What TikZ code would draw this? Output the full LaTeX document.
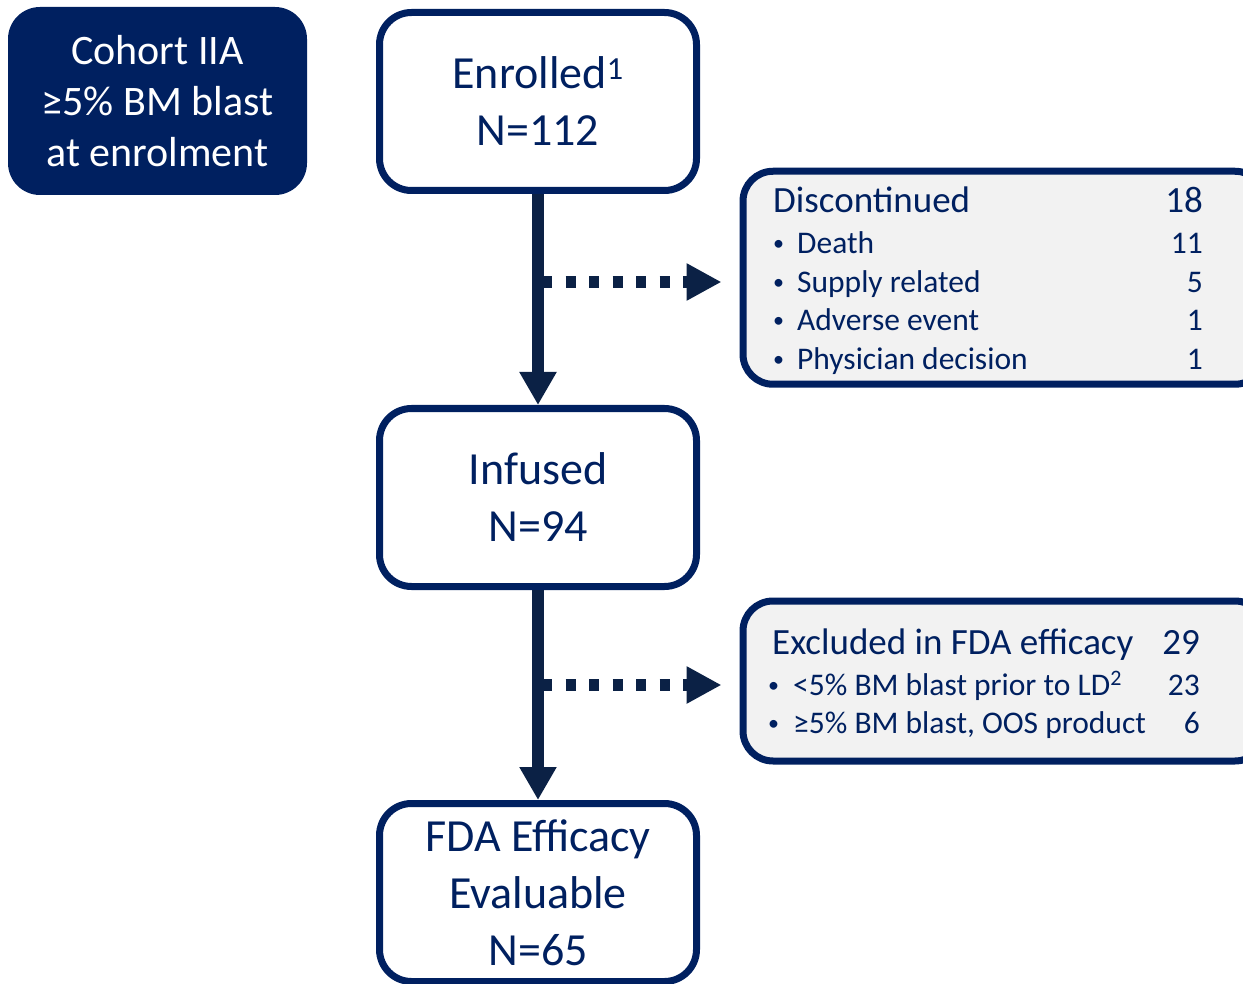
\documentclass[tikz,border=0pt]{standalone}
\usepackage{fontspec}
\setmainfont{Carlito}
\usetikzlibrary{arrows.meta}

\definecolor{bleunuit}{HTML}{002060}
\definecolor{bleufleche}{HTML}{0B2145}
\definecolor{grisfond}{HTML}{F2F2F2}

\newcommand{\puce}{\raisebox{3pt}{\scalebox{0.7}{•}}}

\tikzset{
  boite/.style={draw=bleunuit, line width=7pt, rounded corners=32pt, fill=white,
    text=bleunuit, inner sep=0pt, minimum width=317pt, minimum height=178pt,
    align=center, font=\fontsize{46}{57}\selectfont},
  cadre/.style={draw=bleunuit, line width=7pt, rounded corners=30pt, fill=grisfond,
    inner sep=0pt, minimum width=522pt},
  titre/.style={text=bleunuit, inner sep=0pt, font=\fontsize{37}{44}\selectfont},
  detail/.style={text=bleunuit, inner sep=0pt, font=\fontsize{31.5}{38}\selectfont},
  fleche/.style={draw=bleufleche, line width=12pt, -{Triangle[width=35pt,length=33pt]}},
  pointille/.style={draw=bleufleche, line width=12pt, dash pattern=on 10pt off 13.5pt,
    shorten >=18pt, -{Triangle[width=35pt,length=35pt]}}
}

\begin{document}
\begin{tikzpicture}[x=1pt, y=-1pt]
  \path[use as bounding box, clip] (0,0) rectangle (1243,984);

  % Cohorte
  \node[fill=bleunuit, rounded corners=32pt, minimum width=299pt, minimum height=188pt,
    inner sep=0pt, text=white, align=center, font=\fontsize{42}{51}\selectfont]
    (cohorte) at (157.5,101) {Cohort IIA\\≥5\% BM blast\\at enrolment};

  % Boites principales
  \node[boite] (inscrits) at (538,101.5) {Enrolled\textsuperscript{1}\\N=112};
  \node[boite] (perfuses) at (538,497.5) {Infused\\N=94};
  \node[boite] (evaluables) at (538,892.5) {FDA Efficacy\\Evaluable\\N=65};

  % Boites de droite
  \node[cadre, minimum height=213pt] (arrete) at (1004,277.75) {};
  \node[cadre, minimum height=160pt] (exclus) at (1004,681) {};

  \node[titre, anchor=base west] (arretetitre) at (773,213) {Discontinued};
  \node[titre, anchor=base east] (arretetotal) at (1203,213) {18};
  \foreach \ligne/\motif/\nombre [count=\i] in {254/Death/11, 292.5/Supply related/5,
      331/Adverse event/1, 369.5/Physician decision/1} {
    \node[detail, anchor=base west] (arretemotif\i) at (773,\ligne) {\makebox[24pt][l]{\puce}\motif};
    \node[detail, anchor=base east] (arretenombre\i) at (1203,\ligne) {\nombre};
  }

  \node[titre, anchor=base west] (exclustitre) at (772,654) {Excluded in FDA efficacy};
  \node[titre, anchor=base east] (exclustotal) at (1200,654) {29};
  \foreach \ligne/\motif/\nombre [count=\i] in {695/{<5\% BM blast prior to LD\textsuperscript{2}}/23,
      733/{≥5\% BM blast, OOS product}/6} {
    \node[detail, anchor=base west] (exclusmotif\i) at (768,\ligne) {\makebox[25pt][l]{\puce}\motif};
    \node[detail, anchor=base east] (exclusnombre\i) at (1200,\ligne) {\nombre};
  }

  % Fleches
  \coordinate (depart1) at (542,282);
  \coordinate (depart2) at (542,685);
  \draw[pointille] (depart1) -- (depart1 -| arrete.west);
  \draw[pointille] (depart2) -- (depart2 -| exclus.west);
  \draw[fleche] (inscrits.south) -- (perfuses.north);
  \draw[fleche] (perfuses.south) -- (evaluables.north);
\end{tikzpicture}
\end{document}
